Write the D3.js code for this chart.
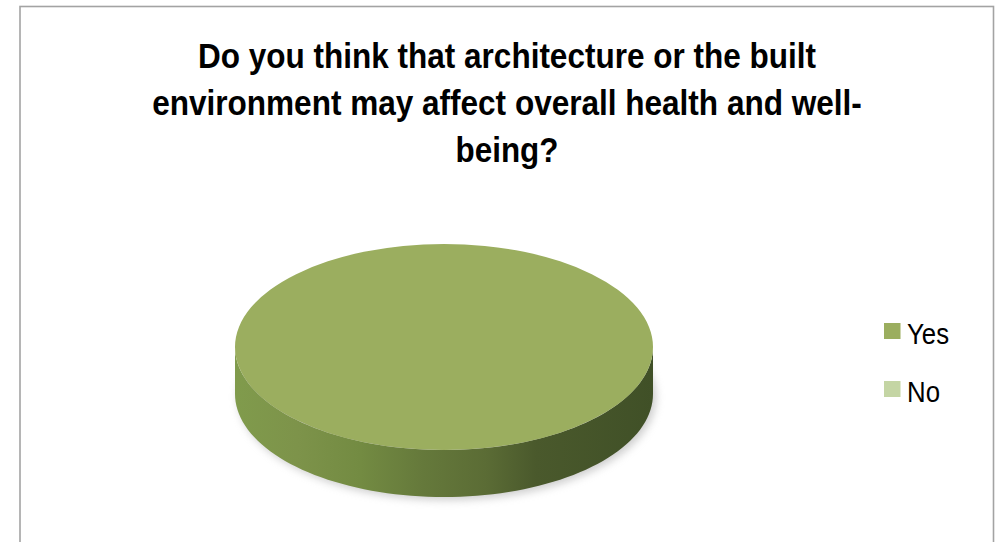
<!DOCTYPE html>
<html><head><meta charset="utf-8">
<script src="https://cdn.jsdelivr.net/npm/d3@7"></script>
<style>html,body{margin:0;padding:0;background:#fff;}svg{display:block;}</style>
</head><body>
<svg id="chart" width="998" height="542"></svg>
<script>
const titleLines = ["Do you think that architecture or the built", "environment may affect overall health and well-", "being?"];
const categories = ["Yes", "No"];
const values = [100, 0];
const colors = ["#9bae5f", "#c4d5a4"];

const svg = d3.select("#chart");
const fontNarrow = "'Liberation Sans Narrow','Arial Narrow','Liberation Sans',Arial,sans-serif";

// frame
svg.append("rect").attr("x", 20).attr("y", 6.5).attr("width", 973.5).attr("height", 560)
  .attr("fill", "#fff").attr("stroke", "#a3a3a3").attr("stroke-width", 1.6);

// title (horizontally condensed to emulate a narrow face)
const titleW = [618, 710, 103];
titleLines.forEach((t, i) => {
  const tx = svg.append("text").attr("text-anchor", "middle")
    .attr("font-family", fontNarrow).attr("font-weight", "bold").attr("font-size", 35).attr("fill", "#000")
    .attr("transform", `translate(507,${68 + i * 47})`).text(t);
  const len = tx.node().getComputedTextLength();
  tx.attr("transform", `translate(507,${68 + i * 47}) scale(${titleW[i] / len},1)`);
});

// 3D pie
const cx = 444, cy = 347, rx = 209, ry = 103, depth = 47;
const pie = d3.pie().sort(null).value(d => d)(values);
const defs = svg.append("defs");
const grad = defs.append("linearGradient").attr("id", "side").attr("x1", "0").attr("x2", "1").attr("y1", "0").attr("y2", "0");
[[0, "#809b4c"], [0.15, "#7d934a"], [0.3, "#738b42"], [0.45, "#65793b"], [0.6, "#5b6c35"], [0.72, "#4a592c"], [1, "#405027"]]
  .forEach(([o, c]) => grad.append("stop").attr("offset", o).attr("stop-color", c));
const blur = defs.append("filter").attr("id", "shadow").attr("x", "-20%").attr("y", "-20%").attr("width", "140%").attr("height", "140%");
blur.append("feGaussianBlur").attr("stdDeviation", 4);

const pt = (a, dy = 0) => [cx + rx * Math.sin(a), cy - ry * Math.cos(a) + dy];

// shadow
svg.append("ellipse").attr("cx", cx + 3).attr("cy", cy + depth + 3).attr("rx", rx).attr("ry", ry)
  .attr("fill", "#9a9a9a").attr("opacity", 0.5).attr("filter", "url(#shadow)");

function sidePath(a0, a1) {
  const s = Math.max(a0, Math.PI / 2), e = Math.min(a1, 3 * Math.PI / 2);
  if (e <= s) return null;
  const n = 80, top = [], bot = [];
  for (let i = 0; i <= n; i++) {
    const a = s + (e - s) * i / n;
    top.push(pt(a)); bot.push(pt(a, depth));
  }
  return d3.line()(top.concat(bot.reverse())) + "Z";
}
function topPath(d) {
  if (d.endAngle - d.startAngle >= 2 * Math.PI - 1e-6) {
    return `M${cx - rx},${cy}A${rx},${ry} 0 1,1 ${cx + rx},${cy}A${rx},${ry} 0 1,1 ${cx - rx},${cy}Z`;
  }
  const p0 = pt(d.startAngle), p1 = pt(d.endAngle);
  const large = d.endAngle - d.startAngle > Math.PI ? 1 : 0;
  return `M${cx},${cy}L${p0}A${rx},${ry} 0 ${large},1 ${p1}Z`;
}
const slices = pie.filter(d => d.endAngle > d.startAngle);
svg.selectAll("path.side").data(slices).join("path").attr("class", "side")
  .attr("d", d => sidePath(d.startAngle, d.endAngle)).attr("fill", "url(#side)");
svg.selectAll("path.top").data(slices).join("path").attr("class", "top")
  .attr("d", topPath).attr("fill", (d) => colors[d.index]);

// legend
const lg = svg.append("g").attr("transform", "translate(884,323)");
categories.forEach((c, i) => {
  const g = lg.append("g").attr("transform", `translate(0,${i * 58})`);
  g.append("rect").attr("width", 16.5).attr("height", 16).attr("fill", colors[i]);
  g.append("text").attr("transform", "translate(23,21) scale(0.86,1)").attr("font-family", fontNarrow)
    .attr("font-size", 30).attr("fill", "#000").text(c);
});
</script>
</body></html>
